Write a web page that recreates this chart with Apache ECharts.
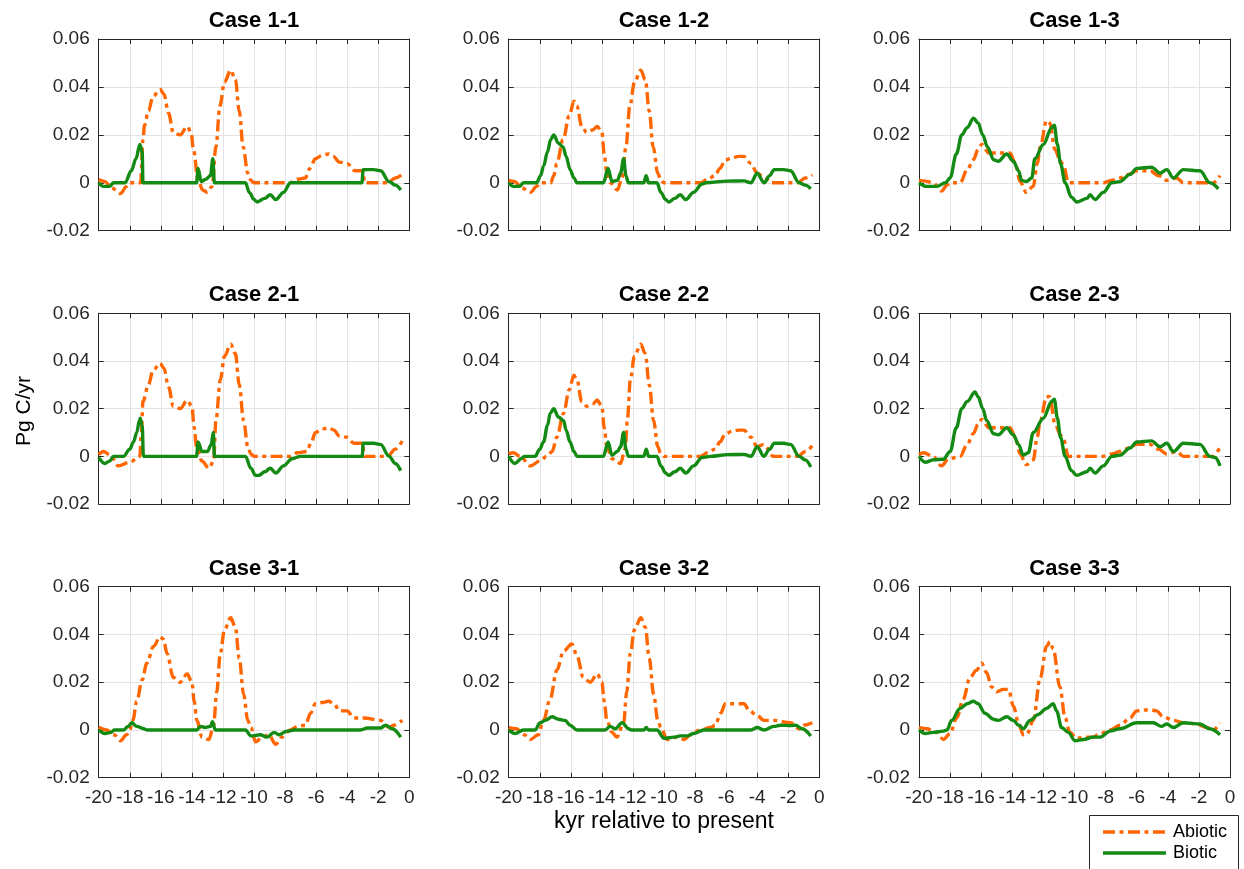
<!DOCTYPE html>
<html>
<head>
<meta charset="utf-8">
<script src="https://cdn.jsdelivr.net/npm/echarts@6/dist/echarts.min.js"></script>
<style>
html,body{margin:0;padding:0;background:#fff;}
#chart{width:1244px;height:869px;}
</style>
</head>
<body>
<div id="chart"></div>
<script>
// ---------------- data ----------------
var caseTitles = ['Case 1-1','Case 1-2','Case 1-3','Case 2-1','Case 2-2','Case 2-3','Case 3-1','Case 3-2','Case 3-3'];
var seriesNames = ['Abiotic','Biotic'];
var xTickValues = [-20,-18,-16,-14,-12,-10,-8,-6,-4,-2,0];
var yTickValues = [-0.02,0,0.02,0.04,0.06];
var xLabelText = 'kyr relative to present';
var yLabelText = 'Pg C/yr';

var abiotic11 = [[-20,0.0013],[-19.6,0.0005],[-19.2,-0.002],[-18.6,-0.0045],[-18.2,-0.0015],[-18,0],[-17.3,0],[-17.15,0.018],[-17.05,0.024],[-16.8,0.03],[-16.5,0.036],[-16.05,0.039],[-15.8,0.037],[-15.5,0.029],[-15.2,0.021],[-14.75,0.02],[-14.3,0.0235],[-14.05,0.021],[-13.9,0.014],[-13.6,0.001],[-13.3,-0.003],[-13,-0.004],[-12.7,-0.0015],[-12.45,0.015],[-12.2,0.032],[-11.9,0.042],[-11.5,0.047],[-11.2,0.043],[-10.95,0.03],[-10.7,0.015],[-10.4,0.004],[-10.2,0.001],[-10,0],[-7.65,0],[-7.2,0.0015],[-6.7,0.002],[-6.4,0.006],[-6.05,0.01],[-5.6,0.0115],[-5.2,0.012],[-4.9,0.011],[-4.5,0.0086],[-4,0.008],[-3.5,0.005],[-2.95,0.005],[-2.9,0],[-1.4,0],[-0.9,0.002],[-0.45,0.0035]];
var biotic11 = [[-20,0],[-19.7,-0.0015],[-19.3,-0.0015],[-19.05,0],[-18.3,0],[-17.9,0.005],[-17.6,0.01],[-17.35,0.016],[-17.2,0.013],[-17.15,0],[-13.7,0],[-13.6,0.006],[-13.4,0.0005],[-13.1,0.0015],[-12.8,0.003],[-12.65,0.01],[-12.55,0],[-10.55,0],[-10.3,-0.004],[-10,-0.007],[-9.8,-0.008],[-9.3,-0.0065],[-8.95,-0.005],[-8.6,-0.007],[-8.1,-0.004],[-7.65,0],[-3.05,0],[-2.97,0.0055],[-2.3,0.0055],[-1.85,0.005],[-1.3,0.0005],[-0.9,-0.001],[-0.55,-0.003]];

var abiotic12 = [[-20,0.001],[-19.6,0.0005],[-19.2,-0.002],[-18.6,-0.004],[-18.2,-0.0015],[-18,0],[-17.3,0],[-17.1,0.003],[-16.9,0.008],[-16.5,0.018],[-16.1,0.028],[-15.8,0.034],[-15.6,0.032],[-15.3,0.0235],[-14.97,0.021],[-14.6,0.022],[-14.3,0.0235],[-14,0.021],[-13.85,0.012],[-13.68,0.004],[-13.45,0],[-13,-0.003],[-12.7,0.002],[-12.45,0.015],[-12.2,0.032],[-11.9,0.042],[-11.5,0.047],[-11.2,0.043],[-10.95,0.03],[-10.7,0.015],[-10.4,0.004],[-10.2,0.001],[-10,0],[-7.65,0],[-7.2,0.0015],[-6.7,0.003],[-6.4,0.006],[-6.05,0.0095],[-5.6,0.0105],[-5.2,0.011],[-4.85,0.011],[-4.4,0.008],[-4,0.004],[-3.6,0.0025],[-3.1,0],[-1.4,0],[-0.9,0.002],[-0.45,0.0033]];
var biotic12 = [[-20,0],[-19.7,-0.0015],[-19.3,-0.0015],[-19.05,0],[-18.2,0],[-17.95,0.003],[-17.75,0.007],[-17.5,0.013],[-17.3,0.018],[-17.1,0.02],[-16.8,0.0165],[-16.5,0.015],[-16.3,0.011],[-16.05,0.0055],[-15.8,0.002],[-15.6,0],[-13.9,0],[-13.6,0.006],[-13.35,0.0005],[-13,0.001],[-12.8,0.004],[-12.6,0.01],[-12.45,0.003],[-12.3,0],[-11.3,0],[-11.15,0.003],[-11,0],[-10.45,0],[-10.2,-0.004],[-9.9,-0.007],[-9.7,-0.008],[-9.3,-0.0065],[-8.95,-0.005],[-8.6,-0.007],[-8.1,-0.004],[-7.55,-0.0005],[-7.3,0],[-5.9,0.0007],[-4.85,0.0008],[-4.4,0],[-4,0.004],[-3.55,0],[-3.2,0.003],[-2.9,0.0055],[-2.3,0.0055],[-1.85,0.005],[-1.3,0],[-0.9,-0.001],[-0.55,-0.0025]];

var abiotic13 = [[-20,0.001],[-19.6,0.0007],[-19.1,0],[-18.55,-0.0035],[-18.2,-0.001],[-18,0],[-17.35,0],[-16.9,0.0054],[-16.5,0.0096],[-16.2,0.014],[-15.97,0.016],[-15.5,0.0124],[-14.15,0.0124],[-13.8,0.008],[-13.5,0.0005],[-13.1,-0.004],[-12.65,-0.0015],[-12.4,0.008],[-12.2,0.015],[-11.8,0.026],[-11.6,0.025],[-11.25,0.0138],[-10.9,0.009],[-10.7,0.007],[-10.4,0],[-8.15,0],[-7.6,0.001],[-7.07,0.002],[-6.5,0.0035],[-6,0.005],[-5.15,0.005],[-4.6,0.003],[-4.07,0.001],[-3.43,0.002],[-3,0],[-1.07,0],[-0.64,0.003]];
var biotic13 = [[-20,0],[-19.5,-0.0015],[-18.86,-0.0015],[-18.3,0],[-18,0.002],[-17.6,0.012],[-17.25,0.02],[-16.9,0.023],[-16.5,0.027],[-16.2,0.025],[-15.9,0.02],[-15.6,0.015],[-15.2,0.0096],[-14.9,0.009],[-14.36,0.012],[-13.93,0.009],[-13.6,0.005],[-13.4,0.001],[-13.1,0.0005],[-12.75,0.002],[-12.55,0.01],[-12,0.016],[-11.47,0.023],[-11.3,0.024],[-11.1,0.016],[-10.9,0.008],[-10.6,0],[-10.2,-0.006],[-9.86,-0.008],[-9.2,-0.0065],[-9,-0.005],[-8.68,-0.007],[-8.15,-0.004],[-7.6,0],[-7.07,0.0005],[-6.43,0.0035],[-6,0.006],[-5.04,0.0065],[-4.5,0.004],[-4.07,0.0055],[-3.64,0.002],[-3,0.0055],[-1.93,0.005],[-1.3,0],[-0.75,-0.0025]];

var abiotic21 = [[-20,0.0007],[-19.7,0.002],[-19.27,0.0007],[-18.73,-0.004],[-18,-0.0025],[-17.35,0],[-17.25,0.01],[-17.15,0.023],[-16.8,0.03],[-16.5,0.036],[-16.05,0.039],[-15.8,0.037],[-15.5,0.029],[-15.2,0.021],[-14.75,0.02],[-14.3,0.0235],[-14,0.021],[-13.85,0.012],[-13.7,0.004],[-13.35,-0.002],[-12.9,-0.005],[-12.6,-0.002],[-12.45,0.015],[-12.17,0.032],[-11.9,0.042],[-11.5,0.047],[-11.2,0.043],[-10.95,0.03],[-10.67,0.015],[-10.4,0.004],[-10.2,0.001],[-10,0],[-7.65,0],[-7.2,0.0015],[-6.6,0.002],[-6.3,0.006],[-6.05,0.01],[-5.6,0.0115],[-5.2,0.012],[-4.85,0.011],[-4.5,0.0085],[-4,0.008],[-3.57,0.0055],[-3,0.0055],[-2.9,0],[-1.4,0],[-0.9,0.003],[-0.45,0.0065]];
var biotic21 = [[-20,-0.0005],[-19.6,-0.003],[-19.3,-0.002],[-19.05,0],[-18.4,0],[-18,0.003],[-17.76,0.006],[-17.55,0.01],[-17.38,0.015],[-17.33,0.016],[-17.2,0.013],[-17.12,0],[-13.7,0],[-13.6,0.006],[-13.35,0.002],[-13,0.002],[-12.75,0.005],[-12.62,0.01],[-12.55,0],[-10.55,0],[-10.2,-0.005],[-9.9,-0.008],[-9.7,-0.008],[-9.3,-0.0065],[-8.95,-0.005],[-8.6,-0.007],[-8.1,-0.004],[-7.55,-0.001],[-7,0],[-3.03,0],[-2.97,0.0055],[-2.3,0.0055],[-1.85,0.005],[-1.3,0],[-0.9,-0.003],[-0.55,-0.006]];

var abiotic22 = [[-20,0.001],[-19.7,0.0015],[-19.27,0],[-18.6,-0.004],[-18,-0.002],[-17.55,0],[-17.2,0.002],[-16.9,0.008],[-16.47,0.018],[-16.1,0.028],[-15.8,0.034],[-15.6,0.032],[-15.3,0.023],[-14.97,0.021],[-14.6,0.022],[-14.3,0.0235],[-14,0.021],[-13.85,0.012],[-13.68,0.004],[-13.35,-0.001],[-12.8,-0.003],[-12.5,0.003],[-12.35,0.016],[-12.17,0.032],[-11.9,0.042],[-11.5,0.047],[-11.2,0.043],[-10.95,0.03],[-10.67,0.015],[-10.4,0.004],[-10.2,0.001],[-10,0],[-7.65,0],[-7.2,0.0015],[-6.7,0.003],[-6.4,0.006],[-6.05,0.0095],[-5.6,0.0105],[-5.2,0.011],[-4.85,0.011],[-4.4,0.008],[-4,0.004],[-3.57,0.005],[-3.25,0.003],[-3,0],[-1.4,0],[-0.9,0.002],[-0.45,0.0045]];
var biotic22 = [[-20,0],[-19.6,-0.003],[-19.2,-0.001],[-19,0],[-18.3,0],[-18,0.003],[-17.76,0.006],[-17.5,0.013],[-17.33,0.018],[-17.1,0.02],[-16.8,0.0165],[-16.47,0.015],[-16.3,0.011],[-16.05,0.006],[-15.8,0.002],[-15.6,0],[-13.9,0],[-13.6,0.006],[-13.35,0.0005],[-13,0.002],[-12.8,0.004],[-12.6,0.01],[-12.45,0.003],[-12.3,0],[-11.3,0],[-11.14,0.003],[-11,0],[-10.45,0],[-10.2,-0.004],[-9.9,-0.007],[-9.7,-0.008],[-9.3,-0.0065],[-8.95,-0.005],[-8.6,-0.007],[-8.1,-0.004],[-7.55,-0.0005],[-7,0],[-5.9,0.0007],[-4.85,0.0008],[-4.4,0],[-4,0.004],[-3.57,0],[-3.2,0.003],[-2.9,0.0055],[-2.3,0.0055],[-1.85,0.005],[-1.3,0],[-0.9,-0.0015],[-0.55,-0.0045]];

var abiotic23 = [[-20,0.0007],[-19.7,0.0015],[-19.1,0],[-18.55,-0.004],[-18.1,-0.001],[-17.35,0],[-16.9,0.005],[-16.5,0.0096],[-16.2,0.0135],[-15.97,0.0155],[-15.5,0.012],[-14.15,0.012],[-13.8,0.008],[-13.5,0.001],[-13.1,-0.0035],[-12.65,-0.0015],[-12.4,0.008],[-12.2,0.015],[-11.8,0.025],[-11.6,0.025],[-11.25,0.0135],[-10.9,0.009],[-10.7,0.007],[-10.4,0],[-8.15,0],[-7.6,0.001],[-7.07,0.002],[-6.5,0.0035],[-6,0.005],[-5.15,0.005],[-4.6,0.003],[-4.07,0.001],[-3.43,0.002],[-3,0],[-1.07,0],[-0.64,0.004]];
var biotic23 = [[-20,0],[-19.6,-0.0025],[-19.08,-0.0015],[-18.43,-0.0012],[-18,0.002],[-17.6,0.012],[-17.25,0.02],[-16.9,0.023],[-16.4,0.027],[-16.2,0.025],[-15.9,0.02],[-15.65,0.015],[-15.2,0.0095],[-14.9,0.009],[-14.36,0.012],[-13.93,0.009],[-13.6,0.005],[-13.3,0.0005],[-12.97,0.0015],[-12.65,0.01],[-12,0.016],[-11.47,0.023],[-11.3,0.024],[-11.1,0.016],[-10.9,0.008],[-10.6,0],[-10.2,-0.006],[-9.86,-0.008],[-9.2,-0.0065],[-9,-0.005],[-8.68,-0.007],[-8.15,-0.004],[-7.6,0],[-7.07,0.0005],[-6.43,0.0035],[-6,0.006],[-5.04,0.0065],[-4.5,0.004],[-4.07,0.0055],[-3.64,0.002],[-3,0.0055],[-1.93,0.005],[-1.3,0],[-0.96,-0.0005],[-0.64,-0.004]];

var abiotic31 = [[-20,0.0011],[-19.5,0],[-19,-0.002],[-18.6,-0.0045],[-18.2,-0.002],[-18,0],[-17.8,0.004],[-17.55,0.012],[-17.2,0.021],[-16.9,0.028],[-16.47,0.035],[-16.05,0.039],[-15.83,0.038],[-15.6,0.032],[-15.2,0.022],[-14.75,0.02],[-14.3,0.0235],[-14,0.02],[-13.85,0.012],[-13.68,0.004],[-13.35,-0.003],[-12.9,-0.004],[-12.6,0.002],[-12.4,0.016],[-12.17,0.032],[-11.9,0.042],[-11.5,0.047],[-11.2,0.043],[-10.95,0.03],[-10.67,0.015],[-10.4,0.004],[-10.2,0.001],[-9.9,-0.005],[-9.46,-0.003],[-9.05,-0.002],[-8.6,-0.006],[-8.2,-0.003],[-7.65,0],[-7.2,0.0015],[-6.7,0.002],[-6.35,0.007],[-6.05,0.011],[-5.6,0.0115],[-5.2,0.012],[-4.85,0.011],[-4.5,0.008],[-4,0.008],[-3.57,0.005],[-2.93,0.005],[-1.85,0.004],[-1.3,0.001],[-1,0.002],[-0.45,0.004]];
var biotic31 = [[-20,0],[-19.6,-0.0015],[-19.2,-0.001],[-19,0],[-18.4,0],[-18.1,0.0015],[-17.87,0.003],[-17.55,0.0015],[-17.1,0.0005],[-16.9,0],[-13.68,0],[-13.46,0.0015],[-13.14,0.001],[-12.8,0.0015],[-12.67,0.0035],[-12.5,0],[-10.55,0],[-10.2,-0.0025],[-9.6,-0.002],[-9.16,-0.003],[-8.7,-0.001],[-8.4,-0.002],[-7.87,-0.0005],[-7.4,0],[-3.14,0],[-2.7,0.0008],[-1.85,0.0008],[-1.53,0.002],[-1.1,0.0005],[-0.55,-0.003]];

var abiotic32 = [[-20,0.001],[-19.5,0.0005],[-19,-0.002],[-18.6,-0.004],[-18.1,-0.002],[-17.76,0.004],[-17.33,0.013],[-16.9,0.025],[-16.47,0.033],[-15.93,0.036],[-15.6,0.031],[-15.2,0.022],[-14.75,0.02],[-14.3,0.0235],[-14,0.02],[-13.85,0.012],[-13.68,0.004],[-13.35,-0.001],[-13.03,-0.003],[-12.6,0.003],[-12.4,0.016],[-12.17,0.032],[-11.9,0.042],[-11.5,0.047],[-11.2,0.043],[-10.95,0.03],[-10.67,0.015],[-10.4,0.004],[-10.2,0.001],[-9.8,-0.004],[-9.16,-0.003],[-8.7,-0.004],[-8.3,-0.002],[-7.65,0],[-7,0.001],[-6.7,0.002],[-6.35,0.007],[-6.05,0.011],[-5.2,0.011],[-4.85,0.011],[-4.5,0.008],[-4,0.006],[-3.57,0.004],[-2.93,0.004],[-1.85,0.003],[-1.3,0.0005],[-1,0.002],[-0.45,0.003]];
var biotic32 = [[-20,0],[-19.6,-0.0015],[-19.05,0],[-18.3,0],[-17.98,0.003],[-17.65,0.004],[-17.2,0.0055],[-16.8,0.0045],[-16.37,0.004],[-16.05,0.002],[-15.6,0],[-13.8,0],[-13.46,0.0015],[-13.14,0.0005],[-12.7,0.003],[-12.28,0.0005],[-12.1,0],[-11.3,0],[-11.14,0.001],[-11,0],[-10.45,0],[-10,-0.0035],[-9.37,-0.003],[-8.95,-0.0025],[-8.5,-0.0025],[-8.1,-0.0015],[-7.44,0],[-4.4,0],[-4,0.001],[-3.57,0],[-2.93,0.0015],[-2.5,0.002],[-1.85,0.0018],[-1.53,0.002],[-1.1,0.0005],[-0.55,-0.0025]];

var abiotic33 = [[-20,0.0011],[-19.5,0.0005],[-18.86,-0.001],[-18.43,-0.004],[-18,-0.0015],[-17.58,0.005],[-17.15,0.013],[-16.72,0.022],[-16.3,0.025],[-15.97,0.028],[-15.65,0.024],[-15.33,0.018],[-15,0.016],[-14.58,0.017],[-14.25,0.017],[-13.93,0.01],[-13.6,0.003],[-13.3,-0.002],[-13.08,-0.002],[-12.65,0.004],[-12.2,0.022],[-11.8,0.035],[-11.58,0.037],[-11.37,0.034],[-10.94,0.018],[-10.6,0.005],[-10.3,-0.001],[-9.86,-0.0035],[-9.2,-0.003],[-8.79,-0.003],[-8.47,-0.002],[-7.72,0],[-7.07,0.002],[-6.43,0.005],[-6,0.008],[-5.15,0.0085],[-4.72,0.008],[-4.3,0.0055],[-3.64,0.004],[-3,0.003],[-2.14,0.0025],[-1.5,0.001],[-1.07,0],[-0.64,0.003]];
var biotic33 = [[-20,0],[-19.6,-0.0015],[-19.08,-0.001],[-18.43,-0.0005],[-18.2,0],[-17.9,0.004],[-17.36,0.009],[-16.9,0.011],[-16.5,0.012],[-16.2,0.011],[-15.76,0.007],[-15.22,0.0045],[-14.9,0.004],[-14.36,0.0055],[-13.93,0.004],[-13.6,0.002],[-13.3,0.0005],[-12.86,0.004],[-12.33,0.0065],[-11.8,0.009],[-11.37,0.011],[-11.15,0.008],[-10.83,0.001],[-10.4,-0.001],[-9.97,-0.0045],[-9.43,-0.004],[-8.79,-0.003],[-8.36,-0.003],[-7.72,-0.0005],[-7.07,0.0005],[-6,0.003],[-4.93,0.003],[-4.4,0.0015],[-4.07,0.0025],[-3.64,0.001],[-3,0.003],[-1.93,0.0025],[-1.3,0.0005],[-0.64,-0.002]];

var abioticAll = [abiotic11,abiotic12,abiotic13,abiotic21,abiotic22,abiotic23,abiotic31,abiotic32,abiotic33];
var bioticAll  = [biotic11,biotic12,biotic13,biotic21,biotic22,biotic23,biotic31,biotic32,biotic33];

// ---------------- layout / style ----------------
var colLeft = [98.7, 508.7, 919];
var colWidth = [310.6, 310.6, 311];
var rowTop = [39, 313.3, 586.7];
var rowHeight = [191.7, 190.7, 191];
var FONT = '"Liberation Sans", Arial, Helvetica, sans-serif';
var AX = '#262626';
var GRIDC = '#e3e3e3';
var ORANGE = '#ff6600';
var GREEN = '#138a13';
var DASHDOT = [12, 4.5, 4, 4.5];
var LW = 3.4;

var grids = [], xAxes = [], yAxes = [], series = [], titles = [];
function fmtY(v){ var r = Math.round(v*100)/100; return r === 0 ? '0' : String(r); }

for (var i = 0; i < 9; i++) {
  var r = Math.floor(i/3), c = i % 3;
  grids.push({left: colLeft[c], top: rowTop[r], width: colWidth[c], height: rowHeight[r],
              show: false, containLabel: false});
  var tick = {show: true, inside: true, length: 5, lineStyle: {color: AX, width: 1}};
  var line = {show: true, onZero: false, lineStyle: {color: AX, width: 1}};
  xAxes.push({gridIndex: i, type: 'value', position: 'bottom', min: xTickValues[0], max: xTickValues[xTickValues.length-1], interval: 2,
    axisLine: line, axisTick: tick,
    axisLabel: {show: r === 2, fontSize: 19, color: AX, fontFamily: FONT, margin: 11,
                formatter: function(v){ return String(Math.round(v)); }},
    splitLine: {show: true, lineStyle: {color: GRIDC, width: 1}}});
  xAxes.push({gridIndex: i, type: 'value', position: 'top', min: xTickValues[0], max: xTickValues[xTickValues.length-1], interval: 2,
    axisLine: line, axisTick: tick, axisLabel: {show: false}, splitLine: {show: false}});
  yAxes.push({gridIndex: i, type: 'value', position: 'left', min: yTickValues[0], max: yTickValues[yTickValues.length-1], interval: 0.02,
    axisLine: line, axisTick: tick,
    axisLabel: {show: true, fontSize: 19, color: AX, fontFamily: FONT, margin: 9, formatter: fmtY},
    splitLine: {show: true, lineStyle: {color: GRIDC, width: 1}}});
  yAxes.push({gridIndex: i, type: 'value', position: 'right', min: yTickValues[0], max: yTickValues[yTickValues.length-1], interval: 0.02,
    axisLine: line, axisTick: tick, axisLabel: {show: false}, splitLine: {show: false}});

  series.push({name: seriesNames[0], type: 'line', xAxisIndex: 2*i, yAxisIndex: 2*i, data: abioticAll[i],
    symbol: 'none', smooth: 0.35, smoothMonotone: 'x', z: 2, silent: true,
    lineStyle: {color: ORANGE, width: LW, type: DASHDOT}, itemStyle: {color: ORANGE}});
  series.push({name: seriesNames[1], type: 'line', xAxisIndex: 2*i, yAxisIndex: 2*i, data: bioticAll[i],
    symbol: 'none', smooth: 0.35, smoothMonotone: 'x', z: 3, silent: true,
    lineStyle: {color: GREEN, width: LW, type: 'solid'}, itemStyle: {color: GREEN}});

  titles.push({text: caseTitles[i], left: colLeft[c] + colWidth[c]/2, top: rowTop[r] - 29, textAlign: 'center',
    padding: 0, textStyle: {fontSize: 22, fontWeight: 'bold', color: '#000', fontFamily: FONT}});
}

var LEG = {x: 1089, y: 815, w: 149, h: 62, lineX1: 1103, lineX2: 1166, textX: 1173, row1: 832, row2: 853};

var option = {
  backgroundColor: '#fff',
  animation: false,
  title: titles,
  grid: grids,
  xAxis: xAxes,
  yAxis: yAxes,
  series: series,
  graphic: [
    {type: 'text', x: 24, y: 411, rotation: Math.PI/2,
     style: {text: yLabelText, x: 0, y: 0, align: 'center', verticalAlign: 'middle', textAlign: 'center', textVerticalAlign: 'middle',
             fontSize: 21, fontFamily: FONT, fill: '#000'}},
    {type: 'text', x: 664, y: 822,
     style: {text: xLabelText, x: 0, y: 0, align: 'center', verticalAlign: 'middle', textAlign: 'center', textVerticalAlign: 'middle',
             fontSize: 23, fontFamily: FONT, fill: '#000'}},
    {type: 'rect', shape: {x: LEG.x + 0.5, y: LEG.y + 0.5, width: LEG.w, height: LEG.h},
     style: {fill: '#fff', stroke: AX, lineWidth: 1}, z: 10},
    {type: 'line', shape: {x1: LEG.lineX1, y1: LEG.row1, x2: LEG.lineX2, y2: LEG.row1},
     style: {stroke: ORANGE, lineWidth: LW, lineDash: DASHDOT}, z: 11},
    {type: 'text', x: LEG.textX, y: LEG.row1,
     style: {text: seriesNames[0], x: 0, y: 0, align: 'left', verticalAlign: 'middle', textAlign: 'left', textVerticalAlign: 'middle',
             fontSize: 18, fontFamily: FONT, fill: '#000'}, z: 11},
    {type: 'line', shape: {x1: LEG.lineX1, y1: LEG.row2, x2: LEG.lineX2, y2: LEG.row2},
     style: {stroke: GREEN, lineWidth: LW}, z: 11},
    {type: 'text', x: LEG.textX, y: LEG.row2,
     style: {text: seriesNames[1], x: 0, y: 0, align: 'left', verticalAlign: 'middle', textAlign: 'left', textVerticalAlign: 'middle',
             fontSize: 18, fontFamily: FONT, fill: '#000'}, z: 11}
  ]
};

var chart = echarts.init(document.getElementById('chart'), null, {renderer: 'canvas'});
chart.setOption(option);
</script>
</body>
</html>
